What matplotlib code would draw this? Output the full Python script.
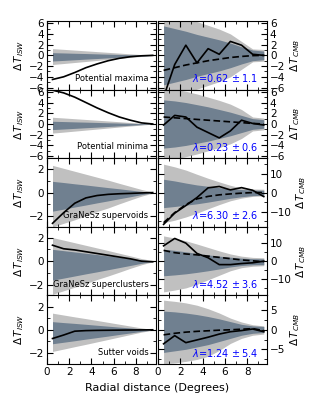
import numpy as np
import matplotlib
matplotlib.use('Agg')
import matplotlib.pyplot as plt
from matplotlib.ticker import MultipleLocator, AutoMinorLocator

# radial bins (degrees)
r = [0.5, 1.5, 2.5, 3.5, 4.5, 5.5, 6.5, 7.5, 8.5, 9.5]

# ---- ISW side (left column) ----
isw_pmax = [-4.5, -4.0, -3.2, -2.3, -1.6, -1.0, -0.55, -0.25, -0.08, 0.0]
isw_pmin = [6.3, 5.8, 5.0, 4.0, 3.0, 2.1, 1.3, 0.7, 0.2, 0.0]
isw_svoid = [-2.6, -1.7, -0.9, -0.45, -0.25, -0.15, -0.1, -0.07, -0.03, 0.0]
isw_sclus = [1.35, 1.05, 0.95, 0.8, 0.65, 0.5, 0.35, 0.2, 0.0, -0.05]
isw_sutter = [-0.75, -0.45, -0.12, -0.07, -0.05, -0.04, -0.03, -0.02, -0.01, 0.0]

# ISW bands: (light_lo, dark_lo, dark_hi, light_hi)
isw_band_pmax = ([-1.7, -1.52, -1.33, -1.14, -0.95, -0.76, -0.57, -0.38, -0.2, -0.03],
                 [-1.05, -0.94, -0.82, -0.7, -0.59, -0.47, -0.35, -0.24, -0.12, -0.02],
                 [0.5, 0.45, 0.39, 0.34, 0.28, 0.22, 0.17, 0.11, 0.06, 0.01],
                 [1.25, 1.12, 0.98, 0.84, 0.7, 0.56, 0.42, 0.28, 0.15, 0.03])
isw_band_pmin = isw_band_pmax
isw_band_svoid = ([-2.9, -2.6, -2.3, -1.95, -1.6, -1.3, -0.95, -0.62, -0.3, -0.05],
                  [-1.57, -1.4, -1.22, -1.05, -0.87, -0.7, -0.52, -0.35, -0.17, -0.02],
                  [0.95, 0.85, 0.74, 0.64, 0.53, 0.42, 0.32, 0.21, 0.1, 0.01],
                  [2.3, 2.05, 1.8, 1.55, 1.3, 1.05, 0.78, 0.52, 0.26, 0.05])
isw_band_sclus = ([-2.8, -2.5, -2.2, -1.9, -1.55, -1.25, -0.93, -0.6, -0.3, -0.05],
                  [-1.6, -1.43, -1.25, -1.07, -0.9, -0.72, -0.54, -0.36, -0.18, -0.02],
                  [1.0, 0.89, 0.78, 0.67, 0.56, 0.45, 0.34, 0.22, 0.11, 0.01],
                  [2.0, 1.78, 1.56, 1.34, 1.12, 0.9, 0.67, 0.45, 0.22, 0.05])
isw_band_sutter = ([-1.86, -1.66, -1.45, -1.25, -1.04, -0.83, -0.62, -0.41, -0.2, -0.04],
                   [-1.2, -1.07, -0.94, -0.8, -0.67, -0.54, -0.4, -0.27, -0.13, -0.02],
                   [0.7, 0.62, 0.55, 0.47, 0.39, 0.31, 0.23, 0.16, 0.08, 0.01],
                   [1.43, 1.27, 1.11, 0.96, 0.8, 0.64, 0.48, 0.32, 0.16, 0.03])

# ---- CMB side (right column) ----
cmb_pmax = [-7.8, -1.7, 1.9, -1.4, 1.25, 0.2, 2.6, 1.9, 0.2, 0.0]
cmb_pmin = [-0.2, 1.6, 1.3, -0.6, -1.6, -2.6, -1.3, 0.7, 0.1, -0.2]
cmb_svoid = [-16.7, -10.8, -6.8, -2.6, 2.5, 3.2, 1.4, 2.6, 1.2, -2.1]
cmb_sclus = [8.5, 12.6, 10.0, 4.3, 1.9, -1.9, -1.9, -1.3, -0.9, 0.0]
cmb_sutter = [-3.6, -1.5, -3.3, -2.6, -1.9, -1.1, -0.5, -0.2, 0.2, -0.5]

# expected (lambda * ISW) template
cmb_fit_pmax = [-2.8, -2.3, -1.8, -1.4, -1.0, -0.7, -0.4, -0.2, -0.05, 0.0]
cmb_fit_pmin = [1.3, 1.15, 1.0, 0.85, 0.7, 0.55, 0.4, 0.25, 0.1, 0.0]
cmb_fit_svoid = [-15.8, -10.5, -6.3, -3.3, -2.0, -1.2, -0.7, -0.3, 0.0, 0.0]
cmb_fit_sclus = [6.0, 4.7, 4.0, 3.5, 2.8, 2.1, 1.4, 0.7, 0.2, -0.3]
cmb_fit_sutter = [-1.3, -0.9, -0.6, -0.4, -0.25, -0.1, 0.0, 0.15, 0.3, -0.2]

cmb_band_pmax = ([-8.5, -7.8, -7.1, -6.3, -5.6, -4.9, -4.0, -2.6, -1.2, -1.1],
                 [-5.5, -5.0, -4.5, -3.9, -3.4, -2.9, -2.3, -1.6, -1.0, -0.8],
                 [5.5, 5.0, 4.5, 3.9, 3.4, 2.9, 2.3, 1.6, 1.0, 0.8],
                 [8.5, 7.8, 7.1, 6.3, 5.6, 4.9, 4.0, 2.6, 1.2, 1.1])
cmb_band_pmin = ([-6.8, -6.5, -6.1, -5.6, -5.0, -4.4, -3.7, -2.7, -1.3, -1.1],
                 [-4.5, -4.3, -4.0, -3.6, -3.2, -2.7, -2.2, -1.6, -1.0, -0.8],
                 [4.5, 4.3, 4.0, 3.6, 3.2, 2.7, 2.2, 1.6, 1.0, 0.8],
                 [6.8, 6.5, 6.1, 5.6, 5.0, 4.4, 3.7, 2.7, 1.3, 1.1])
cmb_band_svoid = ([-15.8, -14.5, -12.8, -10.8, -8.5, -6.3, -4.3, -2.9, -2.0, -1.75],
                  [-7.9, -7.3, -6.6, -5.9, -5.0, -4.0, -3.0, -2.2, -1.6, -1.4],
                  [7.0, 6.1, 5.0, 4.0, 3.3, 2.6, 2.0, 1.6, 1.3, 1.2],
                  [14.9, 13.5, 11.8, 9.6, 7.5, 5.6, 3.8, 2.4, 1.9, 1.75])
cmb_band_sclus = ([-17.0, -16.0, -14.8, -12.8, -10.3, -7.8, -5.3, -3.6, -2.8, -2.5],
                  [-8.1, -7.6, -7.0, -6.2, -5.3, -4.3, -3.2, -2.4, -2.0, -1.9],
                  [6.6, 6.0, 5.2, 4.3, 3.5, 2.8, 2.2, 1.7, 1.4, 1.3],
                  [14.0, 12.8, 11.3, 9.5, 7.6, 5.7, 4.0, 2.8, 2.1, 1.9])
cmb_band_sutter = ([-8.7, -8.5, -8.1, -7.6, -6.8, -5.3, -3.5, -2.2, -1.4, -1.1],
                   [-5.8, -5.4, -5.0, -4.4, -3.8, -3.0, -2.2, -1.4, -0.9, -0.7],
                   [4.8, 4.6, 4.3, 3.9, 3.4, 2.8, 2.1, 1.4, 1.0, 0.85],
                   [7.6, 7.3, 6.9, 6.3, 5.4, 4.3, 3.0, 2.0, 1.3, 1.0])

names = ['Potential maxima', 'Potential minima', 'GraNeSz supervoids',
         'GraNeSz superclusters', 'Sutter voids']
lambdas = [r'$\lambda$=0.62$\,\pm$1.1', r'$\lambda$=0.23$\,\pm$0.6', r'$\lambda$=6.30$\,\pm$2.6',
           r'$\lambda$=4.52$\,\pm$3.6', r'$\lambda$=1.24$\,\pm$5.4']

isw_lines = [isw_pmax, isw_pmin, isw_svoid, isw_sclus, isw_sutter]
isw_bands = [isw_band_pmax, isw_band_pmin, isw_band_svoid, isw_band_sclus, isw_band_sutter]
cmb_lines = [cmb_pmax, cmb_pmin, cmb_svoid, cmb_sclus, cmb_sutter]
cmb_fits = [cmb_fit_pmax, cmb_fit_pmin, cmb_fit_svoid, cmb_fit_sclus, cmb_fit_sutter]
cmb_bands = [cmb_band_pmax, cmb_band_pmin, cmb_band_svoid, cmb_band_sclus, cmb_band_sutter]

isw_lims = [6.4, 6.4, 2.9, 2.9, 2.95]
isw_steps = [2, 2, 2, 2, 2]
cmb_lims = [6.4, 6.4, 18, 19, 8.8]
cmb_steps = [2, 2, 10, 10, 5]

light = '#c0c0c0'
dark = '#708090'

plt.rcParams['font.size'] = 7.5
plt.rcParams['mathtext.default'] = 'it'

fig, axes = plt.subplots(5, 2, figsize=(3.15, 4.05), dpi=100)
fig.subplots_adjust(left=0.149, right=0.848, top=0.948, bottom=0.101,
                    hspace=0, wspace=0.018)

for i in range(5):
    axl, axr = axes[i]

    # left: ISW
    b = isw_bands[i]
    axl.fill_between(r, b[0], b[3], color=light, lw=0)
    axl.fill_between(r, b[1], b[2], color=dark, lw=0)
    axl.plot(r, isw_lines[i], color='k', lw=1.2)
    axl.set_ylim(-isw_lims[i], isw_lims[i])
    axl.yaxis.set_major_locator(MultipleLocator(isw_steps[i]))
    axl.yaxis.set_minor_locator(AutoMinorLocator(2))
    axl.set_ylabel(r'$\Delta\,T_{ISW}$', fontsize=7.5, labelpad=2)
    axl.text(0.93, 0.1, names[i], transform=axl.transAxes, ha='right',
             va='bottom', fontsize=6)

    # right: CMB
    b = cmb_bands[i]
    axr.fill_between(r, b[0], b[3], color=light, lw=0)
    axr.fill_between(r, b[1], b[2], color=dark, lw=0)
    axr.plot(r, cmb_fits[i], color='k', lw=1.2, ls='--', dashes=(4, 2))
    axr.plot(r, cmb_lines[i], color='k', lw=1.2)
    axr.set_ylim(-cmb_lims[i], cmb_lims[i])
    axr.yaxis.set_major_locator(MultipleLocator(cmb_steps[i]))
    axr.yaxis.set_minor_locator(AutoMinorLocator(2))
    axr.yaxis.set_label_position('right')
    axr.set_ylabel(r'$\Delta\,T_{CMB}$', fontsize=7.5, labelpad=2)
    axr.text(0.92, 0.08, lambdas[i], transform=axr.transAxes, ha='right',
             va='bottom', fontsize=7, color='blue')

    for ax in (axl, axr):
        ax.set_xlim(0, 9.8)
        ax.xaxis.set_major_locator(MultipleLocator(2))
        ax.xaxis.set_minor_locator(MultipleLocator(1))
        ax.tick_params(which='both', direction='in', top=True, bottom=True,
                       left=True, right=True, labelsize=7.5, pad=2)
        ax.tick_params(which='major', length=4, width=0.8)
        ax.tick_params(which='minor', length=2, width=0.6)
        if i < 4:
            ax.tick_params(labelbottom=False)
    axr.tick_params(labelleft=False, labelright=True)

fig.text(0.5, 0.035, 'Radial distance (Degrees)', ha='center', fontsize=8)

plt.savefig('out.png', dpi=100)
